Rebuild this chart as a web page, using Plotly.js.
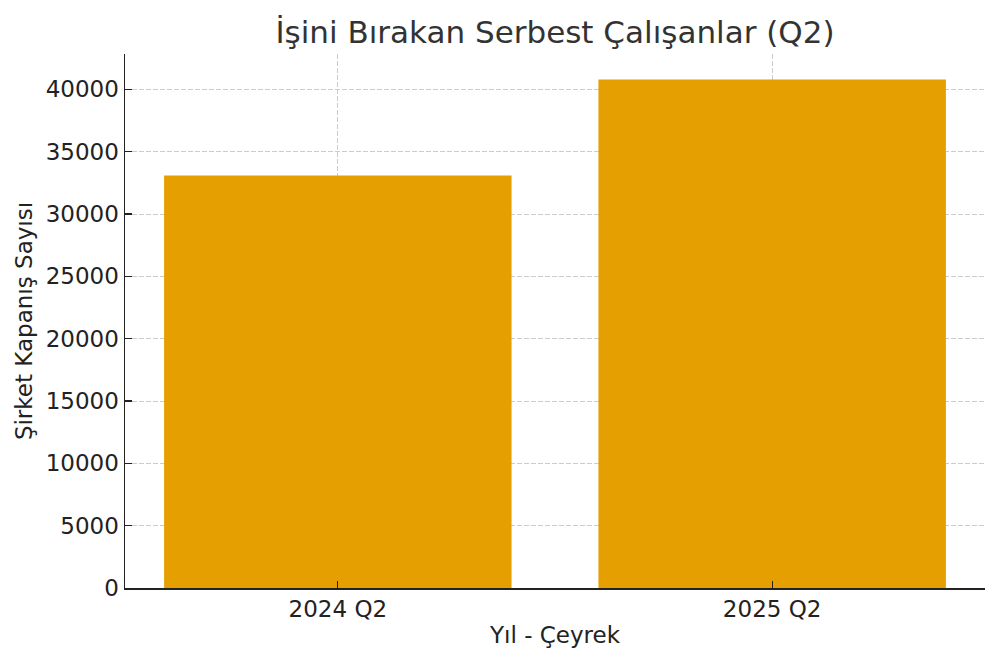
<!DOCTYPE html>
<html><head><meta charset="utf-8">
<script src="https://cdn.plot.ly/plotly-3.0.1.min.js"></script>
<style>html,body{margin:0;padding:0;background:#fff}#c{width:1000px;height:663px}</style>
</head><body><div id="c"></div>
<script>
const categories = ["2024 Q2", "2025 Q2"];
const closures = [33100, 40800];
const yTicks = [0, 5000, 10000, 15000, 20000, 25000, 30000, 35000, 40000];

const font = "DejaVu Sans, sans-serif";
const trace = {
  type: "bar", x: [0, 1], y: closures, width: 0.8,
  marker: {color: "#E69F00", line: {width: 0}}, hoverinfo: "skip"
};
const layout = {
  width: 1000, height: 663,
  margin: {l: 125, r: 15, t: 54, b: 75},
  paper_bgcolor: "#fff", plot_bgcolor: "#fff",
  font: {family: font, color: "#222", size: 23},
  title: {text: "İşini Bırakan Serbest Çalışanlar (Q2)", x: 0.555, xanchor: "center", y: 0.952, yanchor: "middle",
          font: {family: font, size: 31, color: "#333"}},
  xaxis: {range: [-0.49, 1.49], tickvals: [0, 1], ticktext: categories,
          showline: true, linecolor: "#222", linewidth: 1.5, mirror: false,
          ticks: "inside", ticklen: 7, tickwidth: 1.2, tickcolor: "#222",
          showgrid: true, gridcolor: "#cccccc", griddash: "5px,2px", gridwidth: 1, zeroline: false,
          layer: "above traces",
          title: {text: "Yıl - Çeyrek", font: {family: font, size: 23, color: "#222"}, standoff: 6},
          tickfont: {family: font, size: 23, color: "#222"}},
  yaxis: {range: [0, 42840], tickvals: yTicks, ticktext: yTicks.map(String),
          showline: true, linecolor: "#222", linewidth: 1.5,
          ticks: "inside", ticklen: 7, tickwidth: 1.2, tickcolor: "#222",
          showgrid: true, gridcolor: "#cccccc", griddash: "5px,2px", gridwidth: 1, zeroline: false,
          layer: "above traces",
          title: {text: "Şirket Kapanış Sayısı", font: {family: font, size: 23, color: "#222"}, standoff: 6},
          tickfont: {family: font, size: 23, color: "#222"}},
  showlegend: false, bargap: 0.2
};
Plotly.newPlot("c", [trace], layout, {staticPlot: true, displayModeBar: false});
</script></body></html>
